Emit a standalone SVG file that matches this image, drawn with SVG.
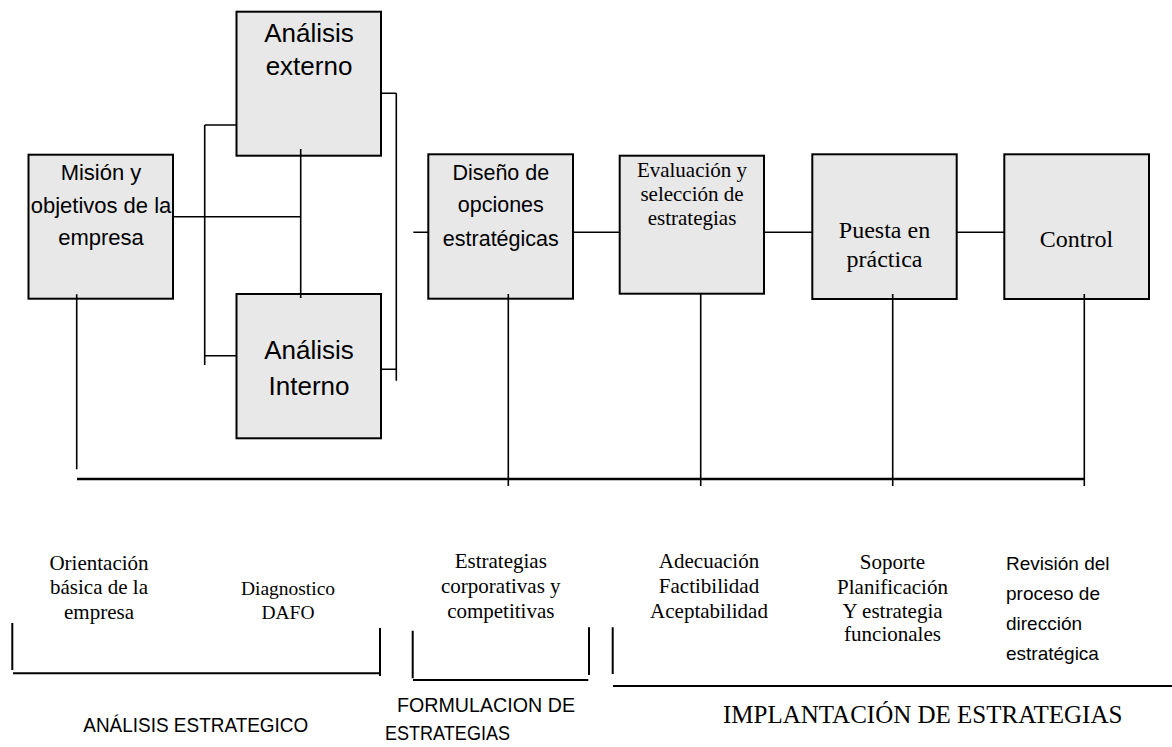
<svg xmlns="http://www.w3.org/2000/svg" width="1172" height="747" viewBox="0 0 1172 747">
<style>
.box{fill:#e8e8e8;stroke:#000;stroke-width:2}
.ln{fill:none;stroke:#000;stroke-width:1.6}
.thick{fill:none;stroke:#000;stroke-width:2.6}
.br{fill:none;stroke:#000;stroke-width:2}
.sans{font-family:"Liberation Sans",Arial,sans-serif;fill:#000}
.serif{font-family:"Liberation Serif","Times New Roman",serif;fill:#000}
.c{text-anchor:middle}
</style>
<rect width="1172" height="747" fill="#fff"/>
<g id="mision">
<rect class="box" x="28.5" y="154.7" width="144.5" height="144"/>
<text class="sans c" font-size="22" x="101" y="180">Misión y</text>
<text class="sans c" font-size="22" x="101" y="212.5">objetivos de la</text>
<text class="sans c" font-size="22" x="101" y="245">empresa</text>
</g>
<g id="analisis-externo">
<rect class="box" x="236.5" y="11.7" width="144.5" height="144"/>
<text class="sans c" font-size="26" x="309" y="41.5">Análisis</text>
<text class="sans c" font-size="26" x="309" y="75">externo</text>
</g>
<g id="analisis-interno">
<rect class="box" x="236.5" y="294" width="144.5" height="144.3"/>
<text class="sans c" font-size="26" x="309" y="359">Análisis</text>
<text class="sans c" font-size="26" x="309" y="395">Interno</text>
</g>
<g id="diseno">
<rect class="box" x="428.3" y="154.3" width="144.7" height="144.4"/>
<text class="sans c" font-size="21.5" x="500.8" y="180">Diseño de</text>
<text class="sans c" font-size="21.5" x="500.8" y="212">opciones</text>
<text class="sans c" font-size="21.5" x="500.8" y="245.5">estratégicas</text>
</g>
<g id="evaluacion">
<rect class="box" x="619.7" y="155.7" width="144.3" height="138"/>
<text class="serif c" font-size="21" x="692" y="176.7">Evaluación y</text>
<text class="serif c" font-size="21" x="692" y="201">selección de</text>
<text class="serif c" font-size="21" x="692" y="224.5">estrategias</text>
</g>
<g id="puesta">
<rect class="box" x="812.3" y="154.3" width="144.4" height="144.7"/>
<text class="serif c" font-size="24" x="884.5" y="238.3">Puesta en</text>
<text class="serif c" font-size="24" x="884.5" y="266.7">práctica</text>
</g>
<g id="control">
<rect class="box" x="1004.3" y="154.3" width="144.7" height="144.7"/>
<text class="serif c" font-size="24" x="1076.5" y="246.7">Control</text>
</g>
<g id="connectors">
<path class="ln" d="M204.7,125H236.5M204.7,125V365M204.7,355.7H236.5"/>
<path class="ln" d="M173,216.7H300.7M300.7,149V298"/>
<path class="ln" d="M381,93.3H396.3M396.3,93.3V380.7M381,369.3H396.3"/>
<path class="ln" d="M413.3,232.3H428.3M573,232.3H619.7M764,232.3H812.3M956.7,232.3H1004.3"/>
<path class="ln" d="M76.7,294.3V469.3M508.3,294V486M700.7,294V486M892.7,294V486M1084.3,294V486"/>
<path class="thick" d="M77,479H1085"/>
</g>
<g id="brackets">
<path class="br" d="M12.3,623V670M13,673.3H381M380,628V676"/>
<path class="br" d="M412.7,630.7V678.3M413,680H588.3M589,627.3V675"/>
<path class="br" d="M612.7,627.3V674M613,686H1172"/>
</g>
<g id="labels">
<text class="serif c" font-size="21" x="99" y="570">Orientación</text>
<text class="serif c" font-size="21" x="99" y="594.3">básica de la</text>
<text class="serif c" font-size="21" x="99" y="619">empresa</text>
<text class="serif c" font-size="19.5" x="288" y="595">Diagnostico</text>
<text class="serif c" font-size="19.5" x="288" y="619">DAFO</text>
<text class="serif c" font-size="21" x="500.8" y="568.3">Estrategias</text>
<text class="serif c" font-size="21" x="500.8" y="593.3">corporativas y</text>
<text class="serif c" font-size="21" x="500.8" y="618">competitivas</text>
<text class="serif c" font-size="21" x="709" y="568.3">Adecuación</text>
<text class="serif c" font-size="21" x="709" y="593">Factibilidad</text>
<text class="serif c" font-size="21" x="709" y="618">Aceptabilidad</text>
<text class="serif c" font-size="21" x="892.5" y="569">Soporte</text>
<text class="serif c" font-size="21" x="892.5" y="593.5">Planificación</text>
<text class="serif c" font-size="21" x="892.5" y="618">Y estrategia</text>
<text class="serif c" font-size="21" x="892.5" y="641">funcionales</text>
<text class="sans" font-size="19" x="1006" y="570">Revisión del</text>
<text class="sans" font-size="19" x="1006" y="600">proceso de</text>
<text class="sans" font-size="19" x="1006" y="630">dirección</text>
<text class="sans" font-size="19" x="1006" y="659.5">estratégica</text>
<text class="sans" font-size="20" x="83.3" y="731.7" textLength="225" lengthAdjust="spacingAndGlyphs">ANÁLISIS ESTRATEGICO</text>
<text class="sans" font-size="20" x="397" y="711.7" textLength="178" lengthAdjust="spacingAndGlyphs">FORMULACION DE</text>
<text class="sans" font-size="20" x="385" y="740" textLength="125" lengthAdjust="spacingAndGlyphs">ESTRATEGIAS</text>
<text class="serif" font-size="25" x="723" y="723.3">IMPLANTACIÓN DE ESTRATEGIAS</text>
</g>
</svg>
